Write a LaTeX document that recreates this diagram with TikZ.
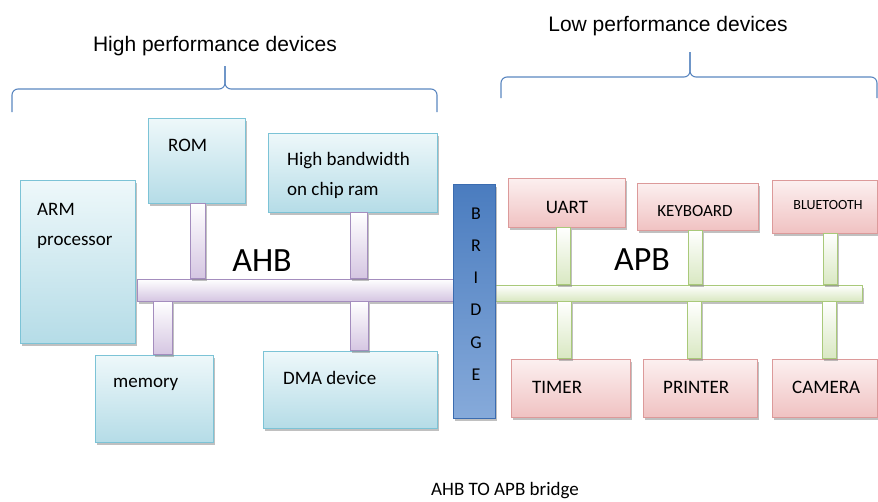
\documentclass[tikz,border=0pt]{standalone}
\usepackage{fontspec}
\setmainfont{Carlito}
\newfontfamily\headfont{Liberation Sans}
\usetikzlibrary{shadows}

\definecolor{hpline}{HTML}{7CC3D6}
\definecolor{hptop}{HTML}{EEF8FA}
\definecolor{hpbot}{HTML}{B5DCE7}
\definecolor{lpline}{HTML}{DC9A9A}
\definecolor{lptop}{HTML}{FCF0F0}
\definecolor{lpbot}{HTML}{F0C2C2}
\definecolor{ahbline}{HTML}{A48DBE}
\definecolor{ahbfill}{HTML}{D5C6E2}
\definecolor{apbline}{HTML}{A9C97A}
\definecolor{apbfill}{HTML}{D9E8C2}
\definecolor{bridgeline}{HTML}{3B6CB0}
\definecolor{bridgetop}{HTML}{4A7CBF}
\definecolor{bridgebot}{HTML}{86AADA}
\definecolor{bracecol}{HTML}{5B87C0}

\begin{document}
\begin{tikzpicture}[x=1pt, y=-1pt, every node/.style={inner sep=0pt},
        shade/.style={drop shadow={shadow xshift=2pt, shadow yshift=-2.5pt, fill=black!45, opacity=.55}}]
      \tikzstyle{hpdev} = [draw=hpline, line width=1pt, top color=hptop, bottom color=hpbot, shade]
      \tikzstyle{lpdev} = [draw=lpline, line width=1pt, top color=lptop, bottom color=lpbot, shade]
      \tikzstyle{ahbbar} = [draw=ahbline, line width=1pt, top color=white, bottom color=ahbfill, shade]
      \tikzstyle{apbbar} = [draw=apbline, line width=1pt, top color=white, bottom color=apbfill, shade]
      \tikzstyle{word} = [font=\fontsize{19}{30}\selectfont, color=black, align=left]
      \tikzstyle{head} = [font=\headfont\fontsize{21}{25}\selectfont, color=black]
      \tikzstyle{busname} = [font=\fontsize{34}{40}\selectfont, color=black]
      \tikzstyle{brace} = [draw=bracecol, line width=1.1pt, rounded corners=6pt]
      \useasboundingbox (0,0) rectangle (878,501);

      % titles and braces
      \node (HIGH) [head] at (215,46) {High performance devices};
      \node (LOW) [head] at (668,26) {Low performance devices};
      \draw[brace] (12,112) |- (225,89) -- (225,66);
      \draw[brace] (437,112) |- (225,89) -- (225,66);
      \draw[brace] (501,98) |- (690,77) -- (690,52);
      \draw[brace] (877,98) |- (690,77) -- (690,52);

      % buses and bridge
      \node (AHB) [ahbbar, minimum width=316, minimum height=22] at (295,290) {};
      \node (APB) [apbbar, minimum width=367, minimum height=16] at (678.5,293) {};
      \node (BRIDGE) [draw=bridgeline, line width=1pt, top color=bridgetop, bottom color=bridgebot,
        shade, minimum width=42, minimum height=234] at (474,301) {};

      % high performance devices
      \node (ARM) [hpdev, minimum width=115, minimum height=163] at (77.5,261.5) {};
      \node (ROM) [hpdev, minimum width=97, minimum height=85] at (196.5,160.5) {};
      \node (RAM) [hpdev, minimum width=169, minimum height=79] at (352.5,172.5) {};
      \node (MEM) [hpdev, minimum width=118, minimum height=87] at (154,398.5) {};
      \node (DMA) [hpdev, minimum width=174, minimum height=77] at (350,389.5) {};

      % low performance devices
      \node (UART) [lpdev, minimum width=117, minimum height=49] at (566.5,202.5) {};
      \node (KEY) [lpdev, minimum width=121, minimum height=47] at (697.5,206.5) {};
      \node (BT) [lpdev, minimum width=105, minimum height=53] at (824.5,206.5) {};
      \node (TIMER) [lpdev, minimum width=119, minimum height=58] at (570.5,388) {};
      \node (PRINTER) [lpdev, minimum width=114, minimum height=58] at (700,388) {};
      \node (CAMERA) [lpdev, minimum width=105, minimum height=58] at (824.5,388) {};

      % stubs to the buses
      \draw[ahbbar] ([xshift=-6.5]ROM.south) rectangle ([xshift=8.5]ROM.south |- AHB.north);
      \draw[ahbbar] ([xshift=-2.5]RAM.south) rectangle ([xshift=14.5]RAM.south |- AHB.north);
      \draw[ahbbar] ([xshift=-1]MEM.north |- AHB.south) rectangle ([xshift=18]MEM.north);
      \draw[ahbbar] ([xshift=0]DMA.north |- AHB.south) rectangle ([xshift=18]DMA.north);
      \draw[apbbar] ([xshift=-10.5]UART.south) rectangle ([xshift=3.5]UART.south |- APB.north);
      \draw[apbbar] ([xshift=-9.5]KEY.south) rectangle ([xshift=4.5]KEY.south |- APB.north);
      \draw[apbbar] ([xshift=-1.5]BT.south) rectangle ([xshift=12.5]BT.south |- APB.north);
      \draw[apbbar] ([xshift=-13.5]TIMER.north |- APB.south) rectangle ([xshift=0.5]TIMER.north);
      \draw[apbbar] ([xshift=-13]PRINTER.north |- APB.south) rectangle ([xshift=1]PRINTER.north);
      \draw[apbbar] ([xshift=-2.5]CAMERA.north |- APB.south) rectangle ([xshift=11.5]CAMERA.north);

      % labels
      \node (ARMt) [word, anchor=west] at (37,226) {ARM\\processor};
      \node (ROMt) [word, anchor=west] at (168,145) {ROM};
      \node (RAMt) [word, anchor=west] at (287,175) {High bandwidth\\on chip ram};
      \node (MEMt) [word, anchor=west] at (113,384) {memory};
      \node (DMAt) [word, anchor=west] at (283,378) {DMA device};
      \node (UARTt) [word] at (567,207) {UART};
      \node (KEYt) [word, font=\fontsize{17}{20}\selectfont] at (695,211) {KEYBOARD};
      \node (BTt) [word, font=\fontsize{14}{17}\selectfont] at (828,205) {BLUETOOTH};
      \node (TIMERt) [word, anchor=west] at (532,387) {TIMER};
      \node (PRINTERt) [word, anchor=west] at (663,387) {PRINTER};
      \node (CAMERAt) [word, anchor=west] at (792,387) {CAMERA};
      \node (AHBt) [busname] at (262,261) {AHB};
      \node (APBt) [busname] at (642,260) {APB};
      \node (BRIDGEt) [word, font=\fontsize{18}{32.2}\selectfont, align=center] at (476,294) {B\\R\\I\\D\\G\\E};
      \node (CAPTION) [word] at (505,491) {AHB TO APB bridge};
\end{tikzpicture}
\end{document}
